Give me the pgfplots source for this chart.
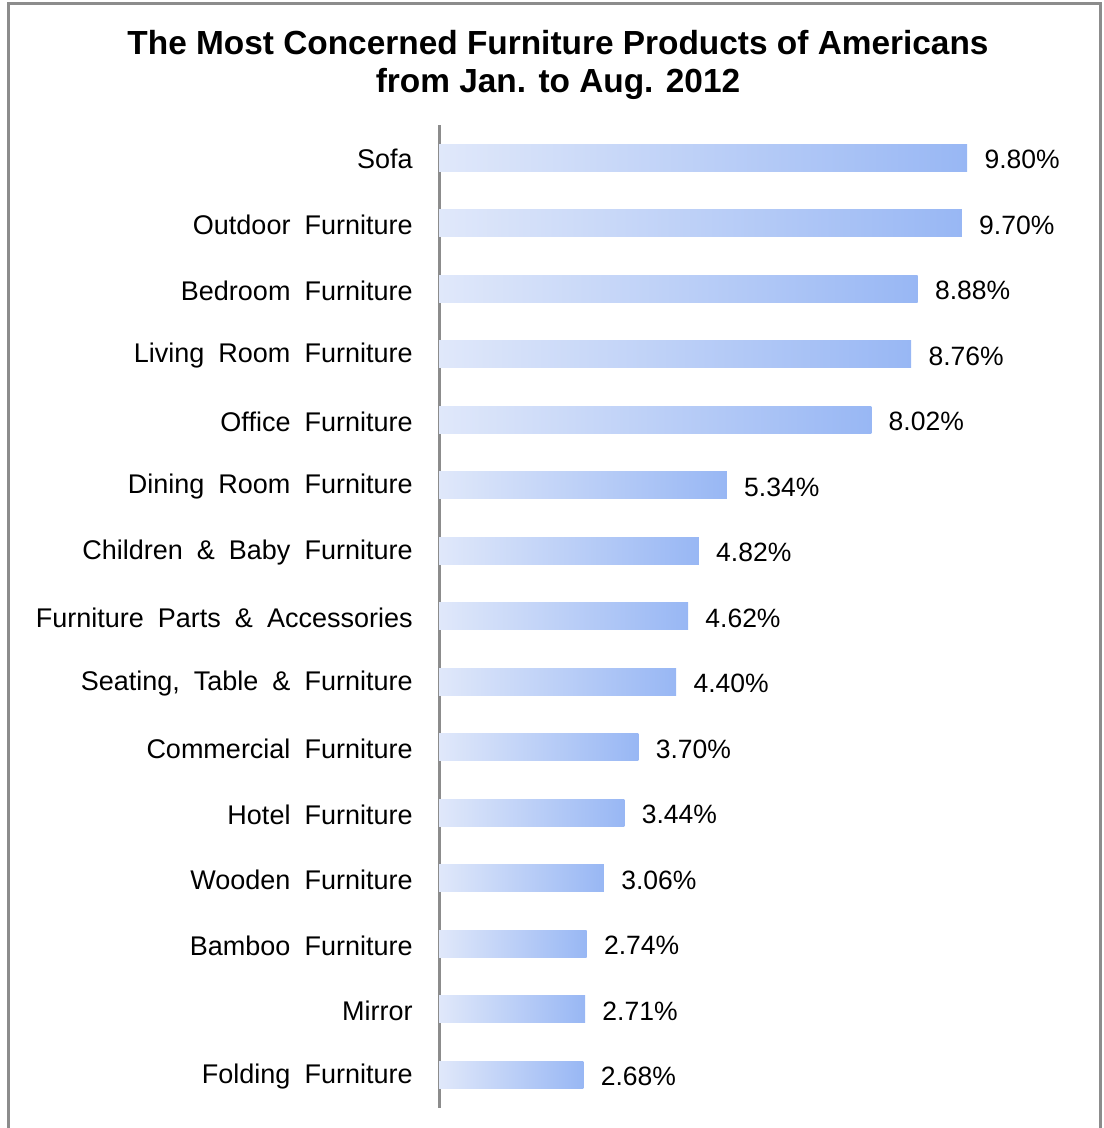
\documentclass[border=0pt]{standalone}
\usepackage{pgfplots}
\usepackage{pgfplotstable}
\pgfplotsset{compat=1.18}
\usepackage{fontspec}
\setmainfont{Liberation Sans}
\definecolor{barL}{HTML}{E0E8FA}
\definecolor{barR}{HTML}{98B7F4}
\definecolor{frame}{HTML}{8C8C8C}
\DeclareRobustCommand\lbfont{\fontsize{13.5}{16}\selectfont\spaceskip=0.52em\relax}

\pgfplotstableread[col sep=comma]{
name,val
Sofa,9.80
Outdoor Furniture,9.70
Bedroom Furniture,8.88
Living Room Furniture,8.76
Office Furniture,8.02
Dining Room Furniture,5.34
Children \& Baby Furniture,4.82
Furniture Parts \& Accessories,4.62
{Seating, Table \& Furniture},4.40
Commercial Furniture,3.70
Hotel Furniture,3.44
Wooden Furniture,3.06
Bamboo Furniture,2.74
Mirror,2.71
Folding Furniture,2.68
}\furn

\begin{document}
\begin{tikzpicture}[x=0.5pt,y=-0.5pt]
\useasboundingbox (0,0) rectangle (1103,1128);
\begin{scope}
\clip (0,0) rectangle (1103,1128);
\draw[frame, line width=1.5pt] (8,1160) -- (8,3.5) -- (1100,3.5) -- (1100,1160);
\end{scope}
\node[font=\fontsize{16.7}{19}\selectfont\bfseries, align=center] at (558,65)
  {The Most Concerned Furniture Products of Americans\\from Jan. to Aug. 2012};
\begin{axis}[
  at={(219.5pt,-62.5pt)}, anchor=north west,
  scale only axis, width=269.5pt, height=491.25pt,
  xmin=0, xmax=10, ymin=-0.5, ymax=14.5, y dir=reverse,
  axis x line=none, axis y line*=left,
  y axis line style={frame, line width=1.5pt},
  ytick={0,...,14},
  yticklabels from table={\furn}{name},
  major tick length=0pt,
  y tick label style={font=\lbfont, inner sep=0pt, xshift=-13pt, yshift=-0.8pt},
  clip=false,
]
% one plot per bar, so that each bar gets its own left-to-right shading
\pgfplotsinvokeforeach{0,...,14}{
\addplot[xbar, bar width=13.5pt, draw=none, left color=barL, right color=barR,
  point meta=x, restrict y to domain=#1:#1,
  nodes near coords={\pgfmathprintnumber[fixed,fixed zerofill,precision=2,assume math mode=true]{\pgfplotspointmeta}\%},
  nodes near coords style={font=\fontsize{13.25}{16}\selectfont, anchor=west, inner sep=0pt, xshift=8.5pt, yshift=-1pt}]
  table[x=val, y expr=\coordindex] {\furn};
}
\end{axis}
\end{tikzpicture}
\end{document}
